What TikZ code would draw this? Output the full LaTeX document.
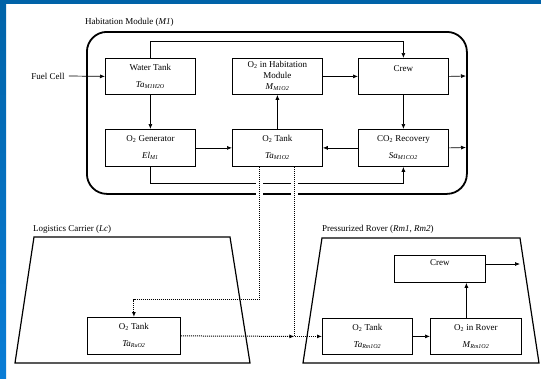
\documentclass[tikz,border=0pt]{standalone}
\usepackage{fontspec}
\setmainfont{Liberation Serif}
\usetikzlibrary{arrows.meta,calc}
\newcommand\vsym[2]{\textit{#1}\textsubscript{\textit{#2}}}
\definecolor{bandtop}{HTML}{0063A8}
\definecolor{bandbot}{HTML}{0A7DD6}
\begin{document}
\begin{tikzpicture}[x=1pt,y=-1pt,
  txt/.style={font=\fontsize{9}{11}\selectfont, inner sep=0pt},
  box/.style={draw, line width=0.8pt, minimum width=90pt, minimum height=36pt,
    inner sep=0pt, align=center, font=\fontsize{9}{11}\selectfont, anchor=north west},
  arr/.style={line width=0.7pt, -{Latex[length=5pt,width=4pt]}},
  dotline/.style={line width=1pt, dash pattern=on 1pt off 1pt},
  gap/.style={white, line width=7pt},
  container/.style={line width=1.2pt, line join=miter}
]
\useasboundingbox (0,0) rectangle (541,378);
\fill[white] (0,0) rectangle (541,378);
% blue frame
\shade[top color=bandtop, bottom color=bandbot] (0,0) rectangle (6,378);
\fill[bandtop] (0,0) rectangle (541,4);

% Habitation module
\node[draw, line width=1.8pt, rounded corners=20pt, minimum width=380pt, minimum height=162pt,
  anchor=north west, inner sep=0pt] (hab) at (86,31) {};
\node[txt, anchor=west] (habt) at (85,22) {Habitation Module (\textit{M1})};

\node[box] (wt) at (105,58) {Water Tank\\[6pt]\vsym{Ta}{M1H2O}};
\node[box] (o2hab) at (232,58) {O\textsubscript{2} in Habitation\\Module\\\vsym{M}{M1O2}};
\node[box] (crew) at (358,58) {};
\node[txt] (crewt) at ([yshift=-11pt]crew.north) {Crew};
\node[box, minimum height=37pt] (gen) at (105,129) {O\textsubscript{2} Generator\\[6pt]\vsym{El}{M1}};
\node[box, minimum height=37pt] (tank) at (232,129) {O\textsubscript{2} Tank\\[6pt]\vsym{Ta}{M1O2}};
\node[box, minimum height=37pt] (co2) at (358,129) {CO\textsubscript{2} Recovery\\[6pt]\vsym{Sa}{M1CO2}};

\node[txt] (fuel) at (48,76) {Fuel Cell};
\coordinate (crewout) at (466,76);
\coordinate (co2out) at (466,147.5);

\draw[arr] ([xshift=4pt]fuel.east) -- (wt.west);
\draw[arr] (wt.north) -- ++(0,-17) -| (crew.north);
\draw[arr] (wt.south) -- (gen.north);
\draw[arr] (gen.east) -- (tank.west);
\draw[arr] (tank.north) -- (o2hab.south);
\draw[arr] (o2hab.east) -- (crew.west);
\draw[arr] (crew.south) -- (co2.north);
\draw[arr] (co2.west) -- (tank.east);
\draw[arr] (crew.east) -- (crewout);
\draw[arr] (co2.east) -- (co2out);
\draw[arr] (gen.south) -- ++(0,17) -| (co2.south);

% Logistics carrier
\draw[container] (34,237) -- (230,237) -- (250,363) -- (15,363) -- cycle;
\node[txt, anchor=west] (lct) at (33,229) {Logistics Carrier (\textit{Lc})};
\node[box, minimum width=93pt, minimum height=37pt] (ltank) at (87,317) {O\textsubscript{2} Tank\\[6pt]\vsym{Ta}{RuO2}};

% Pressurized rover
\draw[container] (322,238) -- (520,238) -- (539,363) -- (303,363) -- cycle;
\node[txt, anchor=west] (rvt) at (322,229) {Pressurized Rover (\textit{Rm1}, \textit{Rm2})};
\node[box, minimum width=91pt, minimum height=27pt] (rcrew) at (394,255) {};
\node[txt] (rcrewt) at ([yshift=-8pt]rcrew.north) {Crew};
\node[box, minimum width=90pt, minimum height=36pt] (rtank) at (322,318) {O\textsubscript{2} Tank\\[6pt]\vsym{Ta}{Rm1O2}};
\node[box, minimum width=91pt, minimum height=36pt] (ro2) at (430,318) {O\textsubscript{2} in Rover\\[6pt]\vsym{M}{Rm1O2}};
\coordinate (rcrewout) at (520,264);

\draw[arr] (rtank.east) -- (ro2.west);
\draw[arr] ([xshift=-9.5pt]ro2.north) -- ([xshift=-9.5pt]ro2.north |- rcrew.south);
\draw[arr] (rcrew.east |- rcrewout) -- (rcrewout);

% dotted transfers with gaps where they cross
\draw[gap] ([xshift=-18pt]tank.south) ++(0,10) -- ++(0,22);
\draw[gap] ([xshift=17pt]tank.south) ++(0,10) -- ++(0,22);
\coordinate (junc) at ([xshift=17pt]tank.south |- rtank.west);
\draw[arr, dotline] ([xshift=-18pt]tank.south) -- ++(0,133) -| (ltank.north);
\draw[arr, dotline] ([xshift=17pt]tank.south) -- (junc) -- (rtank.west);
\draw[arr, dotline] (ltank.east) -- (junc);
\end{tikzpicture}
\end{document}
